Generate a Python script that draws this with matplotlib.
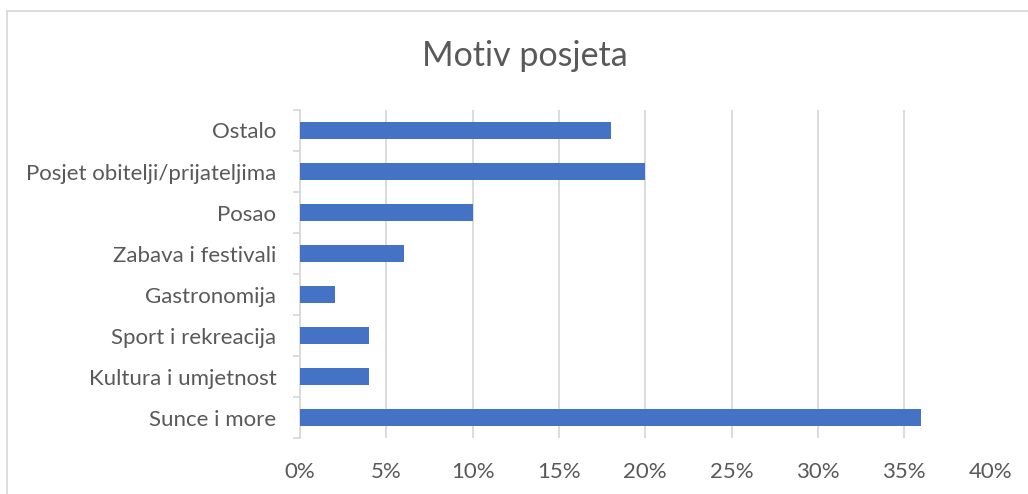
import matplotlib
matplotlib.use('Agg')
import matplotlib.pyplot as plt
from matplotlib.lines import Line2D
import numpy as np

plt.rcParams['font.family'] = ['Lato', 'DejaVu Sans']

# data, bottom to top as drawn
categories = ["Sunce i more", "Kultura i umjetnost", "Sport i rekreacija",
              "Gastronomija", "Zabava i festivali", "Posao",
              "Posjet obitelji/prijateljima", "Ostalo"]
shares = [0.36, 0.04, 0.04, 0.02, 0.06, 0.10, 0.20, 0.18]
xticks = [0, 0.05, 0.10, 0.15, 0.20, 0.25, 0.30, 0.35, 0.40]

text_col = '#595959'
grid_col = '#d9d9d9'

fig = plt.figure(figsize=(10.28, 4.94), dpi=100)
ax = fig.add_axes([300 / 1028, 1 - 438 / 494, 690.5 / 1028, 328 / 494])

y = np.arange(len(categories))
ax.barh(y, shares, height=0.4, color='#4472c4', zorder=3)

ax.set_xlim(0, 0.40)
ax.set_ylim(-0.5, len(categories) - 0.5)
ax.set_xticks(xticks)
ax.set_xticklabels([f"{int(round(t * 100))}%" for t in xticks])
ax.set_yticks(y)
ax.set_yticklabels(categories)
ax.set_yticks(np.arange(len(categories) + 1) - 0.5, minor=True)

ax.xaxis.grid(True, color=grid_col, linewidth=1.3)
ax.set_axisbelow(True)
for s in ['top', 'right', 'bottom']:
    ax.spines[s].set_visible(False)
ax.spines['left'].set_color(grid_col)
ax.spines['left'].set_linewidth(1.3)

ax.tick_params(axis='x', length=0, pad=17, labelsize=16, labelcolor=text_col)
ax.tick_params(axis='y', which='major', length=0, pad=17, labelsize=16,
               labelcolor=text_col)
ax.tick_params(axis='y', which='minor', length=5, width=1.3, color=grid_col)

fig.text(525 / 1028, 1 - 56 / 494, "Motiv posjeta", ha='center', va='center',
         fontsize=24.5, color=text_col)

# outer chart border (only top and left edges are in frame)
fig.add_artist(Line2D([7 / 1028, 7 / 1028], [0, 1 - 11 / 494],
                      transform=fig.transFigure, color=grid_col, linewidth=1.3))
fig.add_artist(Line2D([7 / 1028, 1], [1 - 11 / 494, 1 - 11 / 494],
                      transform=fig.transFigure, color=grid_col, linewidth=1.3))

fig.savefig('out.png', dpi=100)
